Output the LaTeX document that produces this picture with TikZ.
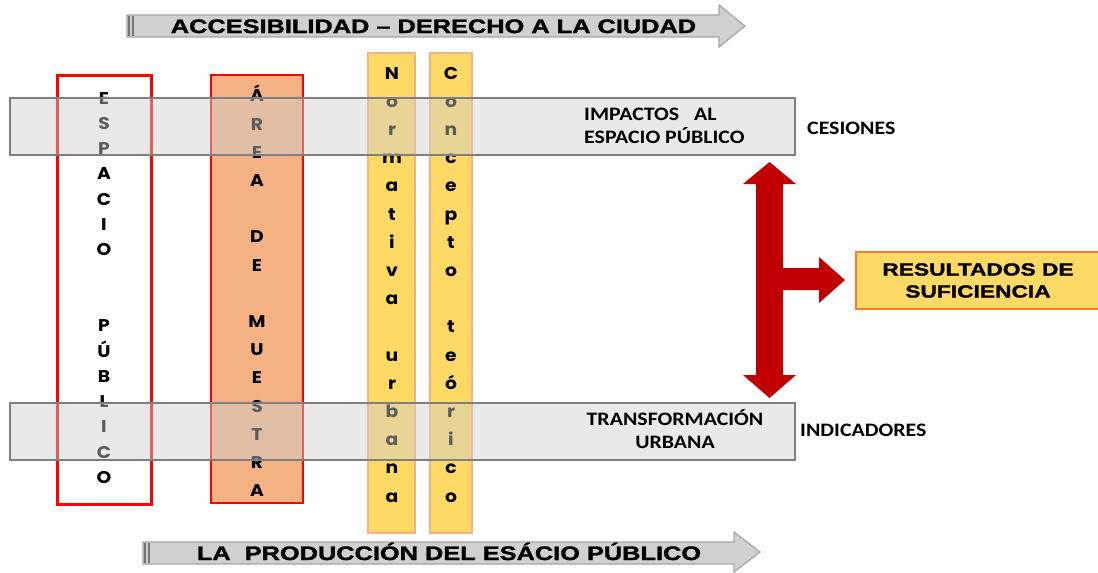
\documentclass[tikz,border=0pt]{standalone}
\usepackage{fontspec}
\newfontfamily\headfont{Liberation Sans}[FakeStretch=1.3,FakeBold=1.6]
\newfontfamily\bodyfont{Carlito}[FakeStretch=1.15]
\newfontfamily\colfont{Poppins}[FakeStretch=1.1]
\definecolor{bandgray}{HTML}{CECECE}
\definecolor{bandline}{HTML}{7F7F7F}
\definecolor{arrowgray}{HTML}{D0D0D0}
\definecolor{arrowline}{HTML}{A6A6A6}
\definecolor{salmon}{HTML}{F4B183}
\definecolor{lightgold}{HTML}{FFD966}
\definecolor{darkred}{HTML}{C00000}
\definecolor{deeporange}{HTML}{ED7D31}

\begin{document}
\begin{tikzpicture}[x=1pt,y=-1pt,
    bigarrow/.style={fill=arrowgray,draw=arrowline,line width=1.2pt},
    band/.style={fill=bandgray,fill opacity=.45,draw=bandline,line width=1.3pt},
    title/.style={anchor=base,inner sep=0pt,font=\headfont\bfseries\fontsize{19.5}{22}\selectfont},
    bandtext/.style={inner sep=0pt,font=\bodyfont\bfseries\fontsize{19}{23}\selectfont},
    letter/.style={anchor=base,inner sep=0pt,font=\colfont\bfseries\fontsize{17}{17}\selectfont},
    resbox/.style={fill=lightgold,draw=deeporange,line width=1.2pt,minimum width=244,
      minimum height=57,align=center,font=\headfont\bfseries\fontsize{17.5}{22}\selectfont}]
  \useasboundingbox (0,0) rectangle (1098,573);
  % arrows at top and bottom
  \draw[bigarrow] (127,15) -- (719,15) -- (719,5) -- (745,26) -- (719,47) -- (719,37) -- (127,37) -- cycle;
  \draw[arrowline!70!black,line width=2pt] (128.5,16) -- (128.5,36) (132.5,16) -- (132.5,36);
  \node[title] (acc) at (433.5,33) {ACCESIBILIDAD – DERECHO A LA CIUDAD};
  \draw[bigarrow] (143,542) -- (734,542) -- (734,532) -- (760,552) -- (734,572) -- (734,564) -- (143,564) -- cycle;
  \draw[arrowline!70!black,line width=2pt] (144.5,543) -- (144.5,563) (148.5,543) -- (148.5,563);
  \node[title] (prod) at (449,560) {LA\ \ PRODUCCIÓN DEL ESÁCIO PÚBLICO};
  % columns
  \draw[red,line width=3pt,fill=white] (57,75) rectangle (151,504);
  \draw[red,line width=2.5pt,fill=salmon] (211,75) rectangle (303,503);
  \draw[salmon,line width=2pt,fill=lightgold] (368,53) rectangle (415,533);
  \draw[salmon,line width=2pt,fill=lightgold] (430,53) rectangle (472,533);
  \foreach \c [count=\i from 0] in {E,S,P,A,C,I,O,{},{},P,Ú,B,L,I,C,O}
    \node[letter] (esp\i) at (104,104+25.3*\i) {\c};
  \foreach \c [count=\i from 0] in {Á,R,E,A,{},D,E,{},M,U,E,S,T,R,A}
    \node[letter] (area\i) at (257,101.8+28.2*\i) {\c};
  \foreach \c [count=\i from 0] in {N,o,r,m,a,t,i,v,a,{},u,r,b,a,n,a}
    \node[letter] (norm\i) at (392,79+28.2*\i) {\c};
  \foreach \c [count=\i from 0] in {C,o,n,c,e,p,t,o,{},t,e,ó,r,i,c,o}
    \node[letter] (conc\i) at (451,79+28.2*\i) {\c};
  % bands over the columns
  \draw[band] (10,98) rectangle (795,155);
  \draw[band] (10,403) rectangle (795,460);
  \node[bandtext,anchor=north west,align=left] (imp) at (584,108) {IMPACTOS\ \ \ AL\\ESPACIO PÚBLICO};
  \node[bandtext,anchor=north,align=center] (trans) at (675,409) {TRANSFORMACIÓN\\URBANA};
  \node[bandtext,anchor=base west] (ces) at (807,134) {CESIONES};
  \node[bandtext,anchor=base west] (ind) at (800,436) {INDICADORES};
  % result
  \node[resbox] (res) at (978,280.5) {RESULTADOS DE\\SUFICIENCIA};
  \fill[darkred] (769.5,162) -- (796,184) -- (783,184) -- (783,268) -- (819,268) -- (819,257)
    -- (845,280) -- (819,303) -- (819,290) -- (783,290) -- (783,375) -- (796,375)
    -- (769.5,398) -- (743,375) -- (756,375) -- (756,184) -- (743,184) -- cycle;
\end{tikzpicture}
\end{document}
